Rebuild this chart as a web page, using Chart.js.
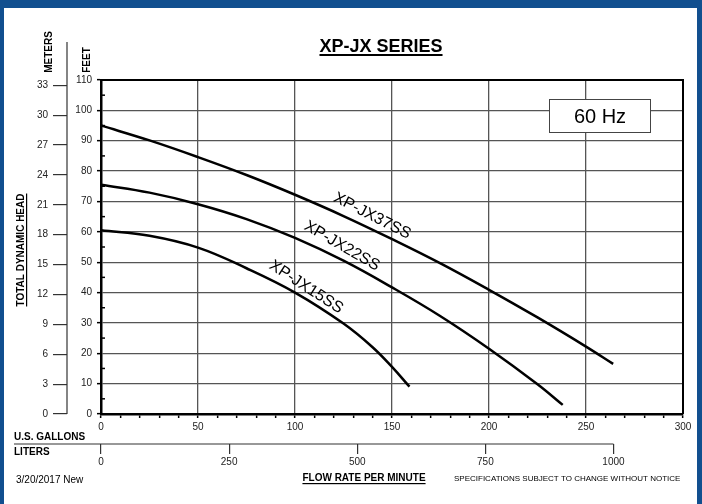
<!DOCTYPE html>
<html>
<head>
<meta charset="utf-8">
<script src="https://cdn.jsdelivr.net/npm/chart.js@4"></script>
<style>
  body { margin: 0; }
  #frame { position: relative; width: 702px; height: 504px; background: #114f8f; }
  #paper { position: absolute; left: 4px; top: 8px; width: 693px; height: 496px; background: #fff; }
  #chart { position: absolute; left: 0; top: 0; }
</style>
</head>
<body>
<div id="frame">
  <div id="paper"></div>
  <canvas id="chart" width="702" height="504"></canvas>
</div>
<script>
// pump curves: flow in US gpm, head in feet
const gpm37 = [0, 25, 50, 75, 100, 125, 150, 175, 200, 225, 250, 264];
const head37 = [95, 90.1, 84.6, 78.7, 72.2, 65.2, 57.6, 49.6, 40.9, 31.8, 22.2, 16.5];
const gpm22 = [0, 25, 50, 75, 100, 125, 150, 175, 200, 225, 238];
const head22 = [75.5, 72.9, 69.1, 64.2, 58, 50.5, 41.7, 32.2, 21.5, 9.8, 3];
const gpm15 = [0, 25, 50, 75, 100, 125, 140, 150, 159];
const head15 = [60.5, 58.7, 54.8, 48, 40, 29.8, 22, 15.5, 9];

const seriesNames = ['XP-JX37SS', 'XP-JX22SS', 'XP-JX15SS'];
const meterTicks = [0, 3, 6, 9, 12, 15, 18, 21, 24, 27, 30, 33];
const literTicks = [0, 250, 500, 750, 1000];

const FT_PER_M = 3.28084;
const L_PER_GAL = 3.78541;
const FONT = "'Liberation Sans', Arial, sans-serif";

const toPoints = (xs, ys) => xs.map((x, i) => ({ x: x, y: ys[i] }));

// where the curve names sit (in gpm / feet) and their slant
const curveLabels = [
  { text: seriesNames[0], gpm: 139.7, ft: 65.2, angle: 27 },
  { text: seriesNames[1], gpm: 124.2, ft: 55.3, angle: 30 },
  { text: seriesNames[2], gpm: 105.7, ft: 41.8, angle: 33 }
];

function textU(ctx, text, x, y, align, lw) {
  ctx.textAlign = align;
  ctx.fillText(text, x, y);
  const w = ctx.measureText(text).width;
  let x0 = x;
  if (align === 'center') x0 = x - w / 2;
  if (align === 'right') x0 = x - w;
  ctx.fillRect(x0, y + 2, w, lw);
}

const extras = {
  id: 'extras',
  afterDraw(chart) {
    const c = chart.ctx;
    const xs = chart.scales.x, ys = chart.scales.y;
    const ym = chart.scales.y2, xl = chart.scales.x2;
    const area = chart.chartArea;
    c.save();

    // minor feet ticks inside the plot
    c.strokeStyle = '#000';
    c.lineWidth = 1.5;
    for (let v = 5; v < 110; v += 10) {
      const p = ys.getPixelForValue(v);
      c.beginPath(); c.moveTo(area.left, p); c.lineTo(area.left + 4, p); c.stroke();
    }

    // top and right frame
    c.lineWidth = 2;
    c.beginPath();
    c.moveTo(area.left, ys.getPixelForValue(110));
    c.lineTo(xs.getPixelForValue(300), ys.getPixelForValue(110));
    c.lineTo(xs.getPixelForValue(300), ys.getPixelForValue(0));
    c.stroke();

    // meters axis line, runs above the plot
    c.strokeStyle = '#333';
    c.lineWidth = 1.2;
    c.beginPath(); c.moveTo(ym.right, 42); c.lineTo(ym.right, ys.getPixelForValue(0)); c.stroke();
    // liters axis line
    c.beginPath(); c.moveTo(14, xl.top); c.lineTo(xl.getPixelForValue(1000), xl.top); c.stroke();

    c.fillStyle = '#000';
    c.textBaseline = 'alphabetic';

    // title
    c.font = 'bold 18px ' + FONT;
    textU(c, 'XP-JX SERIES', 381, 52, 'center', 2);

    // 60 Hz box
    c.fillStyle = '#fff';
    c.fillRect(549, 99, 102, 33);
    c.strokeStyle = '#444';
    c.lineWidth = 1;
    c.strokeRect(549.5, 99.5, 101, 33);
    c.fillStyle = '#000';
    c.font = '20px ' + FONT;
    c.textAlign = 'center';
    c.textBaseline = 'middle';
    c.fillText('60 Hz', 600, 117);

    // curve names
    c.font = '16px ' + FONT;
    curveLabels.forEach(l => {
      c.save();
      c.translate(xs.getPixelForValue(l.gpm), ys.getPixelForValue(l.ft));
      c.rotate(l.angle * Math.PI / 180);
      c.fillText(l.text, 0, 0);
      c.restore();
    });

    // vertical axis titles
    c.textBaseline = 'alphabetic';
    c.font = 'bold 10px ' + FONT;
    const vtext = (t, x, y, under) => {
      c.save();
      c.translate(x, y);
      c.rotate(-Math.PI / 2);
      if (under) textU(c, t, 0, 0, 'center', 1.2);
      else { c.textAlign = 'center'; c.fillText(t, 0, 0); }
      c.restore();
    };
    vtext('METERS', 52, 52, false);
    vtext('FEET', 90, 60, false);
    vtext('TOTAL DYNAMIC HEAD', 24, 250, true);

    // bottom texts
    c.textBaseline = 'middle';
    c.textAlign = 'left';
    c.fillText('U.S. GALLONS', 14, 437);
    c.fillText('LITERS', 14, 452);
    c.textBaseline = 'alphabetic';
    textU(c, 'FLOW RATE PER MINUTE', 364, 481, 'center', 1.2);
    c.font = '10px ' + FONT;
    c.textAlign = 'left';
    c.textBaseline = 'middle';
    c.fillText('3/20/2017 New', 16, 480);
    c.font = '8px ' + FONT;
    c.fillText('SPECIFICATIONS SUBJECT TO CHANGE WITHOUT NOTICE', 454, 479, 231);

    c.restore();
  }
};

const curveStyle = {
  borderColor: '#000',
  borderWidth: 2.5,
  pointRadius: 0,
  fill: false,
  tension: 0.4
};

new Chart(document.getElementById('chart'), {
  type: 'line',
  data: {
    datasets: [
      Object.assign({ label: seriesNames[0], data: toPoints(gpm37, head37) }, curveStyle),
      Object.assign({ label: seriesNames[1], data: toPoints(gpm22, head22) }, curveStyle),
      Object.assign({ label: seriesNames[2], data: toPoints(gpm15, head15) }, curveStyle)
    ]
  },
  options: {
    responsive: false,
    animation: false,
    layout: { padding: { top: 80, right: 19, left: 0, bottom: 30 } },
    plugins: { legend: { display: false }, tooltip: { enabled: false } },
    scales: {
      x: {
        type: 'linear', position: 'bottom', weight: 0,
        min: 0, max: 300,
        border: { color: '#000', width: 2.5 },
        grid: {
          color: ctx => (ctx.tick.value % 50 === 0 && ctx.tick.value > 0 && ctx.tick.value < 300) ? '#555' : 'rgba(0,0,0,0)',
          lineWidth: 1.3,
          tickColor: '#000',
          tickWidth: 1.5,
          tickLength: 4
        },
        ticks: {
          stepSize: 10, autoSkip: false, maxRotation: 0, padding: 3,
          color: '#222', font: { family: FONT, size: 10 },
          callback: v => v % 50 === 0 ? String(v) : ''
        },
        afterFit: s => { s.height = 30; }
      },
      x2: {
        type: 'linear', position: 'bottom', weight: 1,
        min: 0, max: 300 * L_PER_GAL,
        border: { display: false },
        grid: { drawOnChartArea: false, color: '#333', lineWidth: 1.2, tickLength: 10 },
        afterBuildTicks: s => { s.ticks = literTicks.map(v => ({ value: v })); },
        ticks: {
          autoSkip: false, maxRotation: 0, padding: 2, color: '#222',
          font: { family: FONT, size: 10 },
          callback: v => String(v)
        },
        afterFit: s => { s.height = 30; }
      },
      y: {
        type: 'linear', position: 'left', weight: 0,
        min: 0, max: 110,
        border: { color: '#000', width: 2.5 },
        grid: {
          color: ctx => (ctx.tick.value % 10 === 0 && ctx.tick.value > 0 && ctx.tick.value < 110) ? '#555' : 'rgba(0,0,0,0)',
          lineWidth: 1.3,
          tickColor: ctx => ctx.tick.value % 10 === 0 ? '#000' : 'rgba(0,0,0,0)',
          tickWidth: 1.5,
          tickLength: 4
        },
        ticks: {
          stepSize: 5, autoSkip: false, padding: 5,
          color: '#222', font: { family: FONT, size: 10 },
          callback: v => v % 10 === 0 ? String(v) : ''
        },
        afterFit: s => { s.width = 34; }
      },
      y2: {
        type: 'linear', position: 'left', weight: 1,
        min: 0, max: 110 / FT_PER_M,
        border: { display: false },
        grid: { drawOnChartArea: false, color: '#333', lineWidth: 1.2, tickLength: 14 },
        afterBuildTicks: s => { s.ticks = meterTicks.map(v => ({ value: v })); },
        ticks: {
          autoSkip: false, padding: 5, color: '#222',
          font: { family: FONT, size: 10 },
          callback: v => String(v)
        },
        afterFit: s => { s.width = 67; }
      }
    }
  },
  plugins: [extras]
});
</script>
</body>
</html>
